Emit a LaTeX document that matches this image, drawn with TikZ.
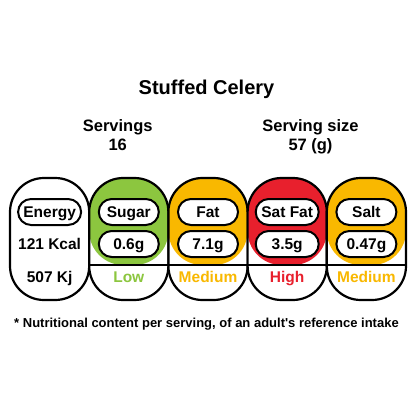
\documentclass[tikz,border=0pt]{standalone}
\usepackage{fontspec}
\setmainfont{Liberation Sans}
\definecolor{lowg}{HTML}{8CC63F}
\definecolor{medo}{HTML}{F9B800}
\definecolor{highr}{HTML}{E8202D}
\begin{document}
\begin{tikzpicture}[x=1pt,y=-1pt,
  txt/.style={font=\bfseries\fontsize{15.5}{15.5}\selectfont, text height=11.1pt, text depth=0pt, inner sep=0pt},
  head/.style={font=\bfseries\fontsize{16.5}{16.5}\selectfont, text height=11.8pt, text depth=0pt, inner sep=0pt},
  pill/.style={txt, draw, line width=2pt, fill=white, rounded corners=13pt, minimum height=26pt, minimum width=60pt},
  nbox/.style={draw, line width=2.2pt, fill=white, rounded corners=34pt, minimum width=79.2pt, minimum height=122pt, inner sep=0pt},
  band/.style={nbox, path picture={
      \fill[#1] (path picture bounding box.north west) rectangle ([yshift=35pt]path picture bounding box.south east);
      \draw[line width=2.2pt] ([yshift=35pt]path picture bounding box.south west) -- ([yshift=35pt]path picture bounding box.south east);}}
]
\useasboundingbox (0,0) rectangle (414,414);

% title and header
\node[font=\bfseries\fontsize{20}{20}\selectfont, text height=14.3pt, text depth=0pt, inner sep=0pt] (title) at (206.5,87) {Stuffed Celery};
\node[head] (servh) at (117.7,126) {Servings};
\node[head] (servv) at (117.7,145) {16};
\node[head] (sizeh) at (310.5,126) {Serving size};
\node[head] (sizev) at (310.5,145) {57 (g)};

% boxes
\node[nbox] (energybox) at (49.6,239) {};
\node[band=lowg] (sugarbox) at (128.8,239) {};
\node[band=medo] (fatbox) at (208,239) {};
\node[band=highr] (satbox) at (287.2,239) {};
\node[band=medo] (saltbox) at (366.4,239) {};

% energy
\node[pill, minimum width=63pt] (energylab) at (49.6,212) {Energy};
\node[txt] (kcal) at (49.6,244) {121 Kcal};
\node[txt] (kj) at (49.6,277) {507 Kj};

% sugar
\node[pill] (sugarlab) at (128.8,212) {Sugar};
\node[pill] (sugarval) at (128.8,244) {0.6g};
\node[txt, text=lowg] (sugarlvl) at (128.8,277) {Low};

% fat
\node[pill] (fatlab) at (208,212) {Fat};
\node[pill] (fatval) at (208,244) {7.1g};
\node[txt, text=medo] (fatlvl) at (208,277) {Medium};

% sat fat
\node[pill, minimum width=63pt] (satlab) at (287.2,212) {Sat Fat};
\node[pill, minimum width=63pt] (satval) at (287.2,244) {3.5g};
\node[txt, text=highr] (satlvl) at (287.2,277) {High};

% salt
\node[pill] (saltlab) at (366.4,212) {Salt};
\node[pill] (saltval) at (366.4,244) {0.47g};
\node[txt, text=medo] (saltlvl) at (366.4,277) {Medium};

% footnote
\node[font=\bfseries\fontsize{13}{13}\selectfont, text height=9.3pt, text depth=0pt, inner sep=0pt] (foot) at (206.5,323) {* Nutritional content per serving, of an adult\textquotesingle s reference intake};
\end{tikzpicture}
\end{document}
